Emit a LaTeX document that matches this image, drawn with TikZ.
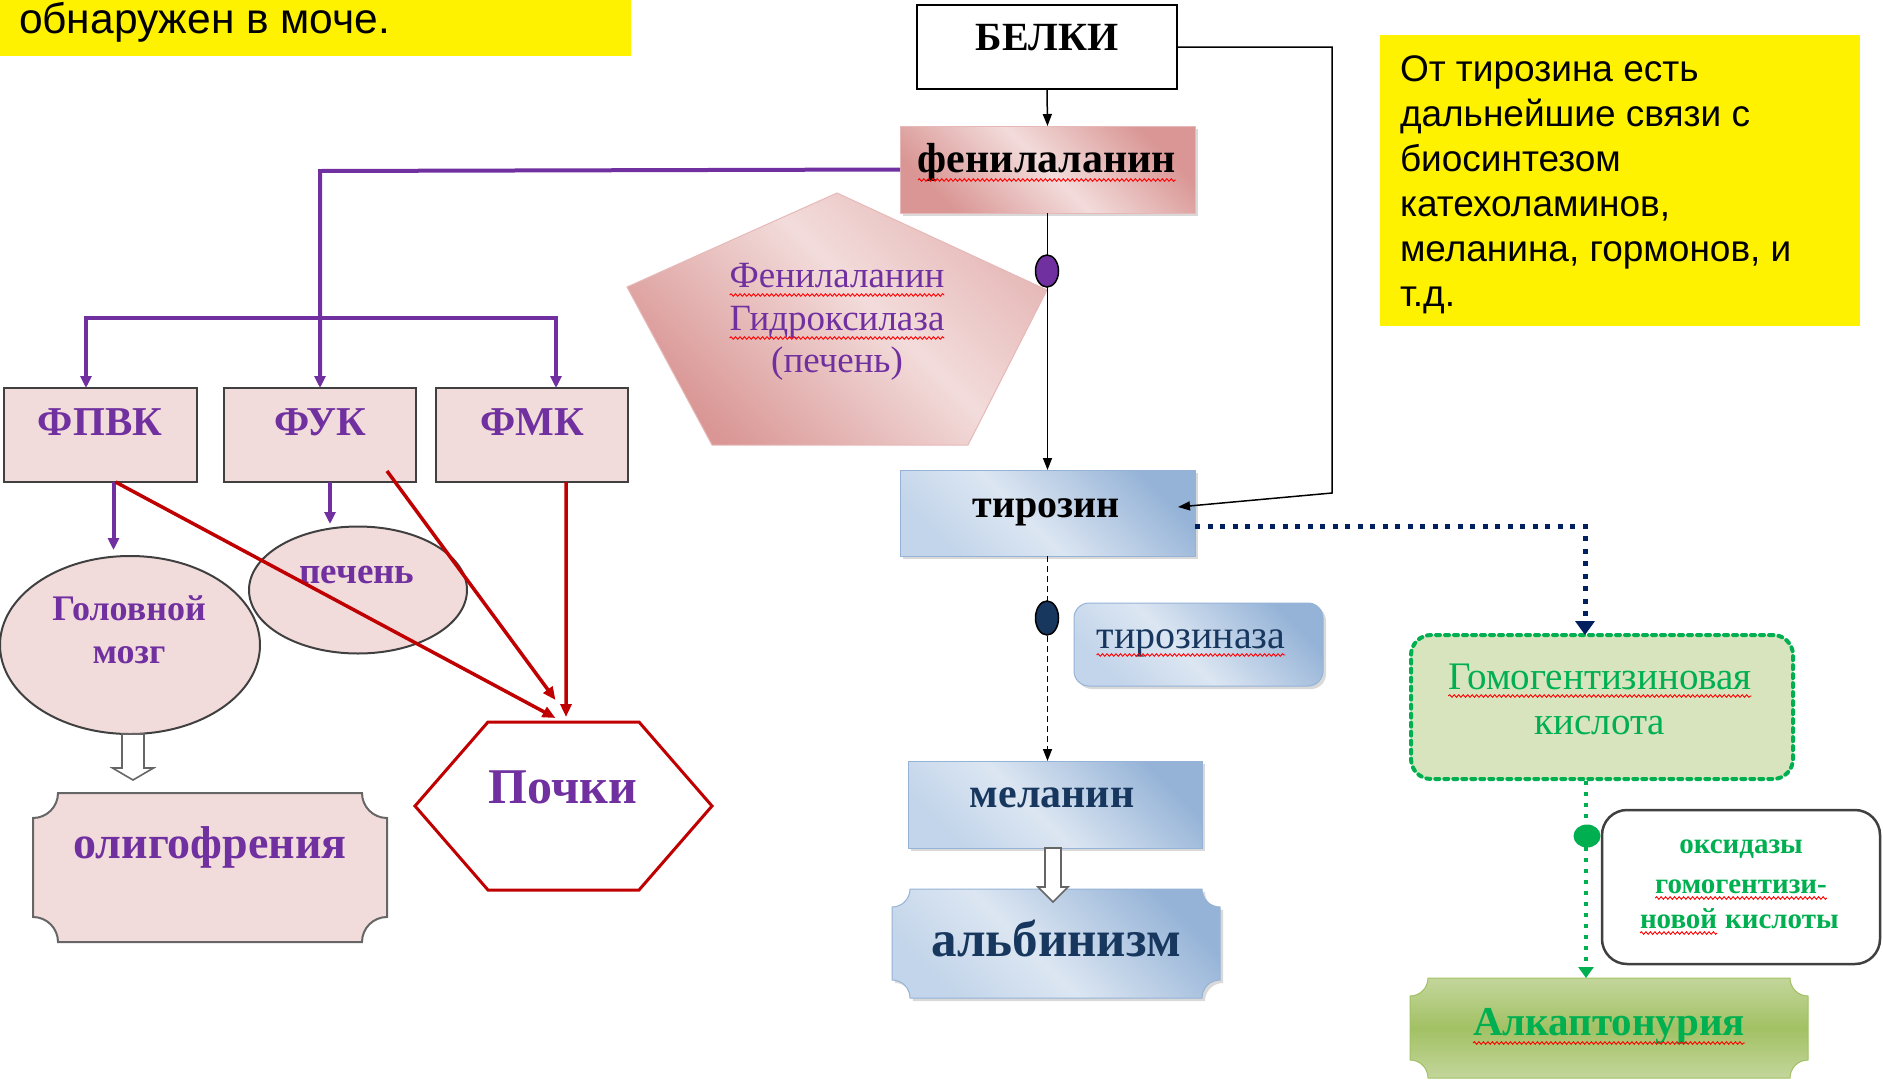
\documentclass[tikz,border=0pt]{standalone}
\usepackage{fontspec}
\setmainfont{Liberation Serif}
\newfontfamily\arialf{Liberation Sans}
\usetikzlibrary{arrows.meta,shapes.geometric,shadows,decorations.pathmorphing,calc}

\definecolor{purp}{HTML}{7030A0}
\definecolor{pinkL}{HTML}{F2DCDB}
\definecolor{pinkM}{HTML}{E6B9B8}
\definecolor{pinkD}{HTML}{D99694}
\definecolor{redC}{HTML}{C00000}
\definecolor{blueL}{HTML}{DCE6F2}
\definecolor{blueM}{HTML}{C3D5EA}
\definecolor{blueD}{HTML}{95B3D7}
\definecolor{navy}{HTML}{17375E}
\definecolor{navyDot}{HTML}{002060}
\definecolor{grn}{HTML}{00B050}
\definecolor{grnL}{HTML}{D7E4BD}
\definecolor{grnM}{HTML}{A2C164}
\definecolor{grnT}{HTML}{C3D69B}
\definecolor{boxline}{HTML}{404040}

% diagonal fills: light in the middle, darker towards the corners
\pgfdeclarehorizontalshading{bluediag}{100bp}{color(0bp)=(blueM); color(25bp)=(blueM); color(45bp)=(blueL); color(75bp)=(blueD); color(100bp)=(blueD)}
\pgfdeclarehorizontalshading{pinkdiag}{100bp}{color(0bp)=(pinkD); color(25bp)=(pinkD); color(50bp)=(pinkL); color(75bp)=(pinkD); color(100bp)=(pinkD)}
\pgfdeclarehorizontalshading{pinksoft}{100bp}{color(0bp)=(pinkD); color(25bp)=(pinkD); color(55bp)=(pinkL); color(75bp)=(pinkM); color(100bp)=(pinkM)}

% plaque outline with concave quarter-circle corners: x1,y1,x2,y2,r
\newcommand\plaquepath[5]{({#1+#5},#2) -- ({#3-#5},#2) .. controls ({#3-#5},{#2+0.552*#5}) and ({#3-0.552*#5},{#2+#5}) .. (#3,{#2+#5}) -- (#3,{#4-#5}) .. controls ({#3-0.552*#5},{#4-#5}) and ({#3-#5},{#4-0.552*#5}) .. ({#3-#5},#4) -- ({#1+#5},#4) .. controls ({#1+#5},{#4-0.552*#5}) and ({#1+0.552*#5},{#4-#5}) .. (#1,{#4-#5}) -- (#1,{#2+#5}) .. controls ({#1+0.552*#5},{#2+#5}) and ({#1+#5},{#2+0.552*#5}) .. ({#1+#5},#2) -- cycle}

% hollow block arrow: centre x, top y, half shaft, half head, head base y, tip y
\newcommand\hollowarrow[6]{\draw[fill=white,draw=black!60,line width=1.6bp] ({#1-#3},#2) -- ({#1+#3},#2) -- ({#1+#3},#5) -- ({#1+#4},#5) -- (#1,#6) -- ({#1-#4},#5) -- ({#1-#3},#5) -- cycle;}

% red wavy proofing mark under a label
\newcommand\spellmark[2]{\draw[wavy] ($(#1.base west)+(0,#2)$) -- ($(#1.base east)+(0,#2)$);}

\begin{document}
\begin{tikzpicture}[x=1bp,y=-1bp,
  lbl/.style={inner sep=0pt,outer sep=0pt,anchor=base},
  fsb/.style={font=\fontsize{#1bp}{#1bp}\selectfont\bfseries},
  fsr/.style={font=\fontsize{#1bp}{#1bp}\selectfont},
  fsa/.style={font=\arialf\fontsize{#1bp}{#1bp}\selectfont},
  frame/.style={inner sep=0pt,outer sep=0pt},
  pinkbox/.style={frame,draw=boxline,line width=2bp,fill=pinkL},
  boxshadow/.style={drop shadow={shadow xshift=3bp,shadow yshift=-3bp,opacity=0.3}},
  bluebox/.style={frame,draw=blueD,line width=1bp,shading=bluediag,shading angle=45,boxshadow},
  purpl/.style={draw=purp,line width=4bp},
  purptip/.style={-{Triangle[length=12bp,width=11bp]}},
  redln/.style={draw=redC,line width=3.5bp,-{Triangle[length=13bp,width=11bp]}},
  blk/.style={draw=black,line width=1.5bp,-{Triangle[length=12bp,width=9bp]}},
  wavy/.style={draw=red,line width=0.9bp,decorate,decoration={snake,amplitude=1.3bp,segment length=4.5bp}},
  enzdot/.style={ellipse,inner sep=0pt,draw=black,line width=1.5bp}]

\useasboundingbox (0,0) rectangle (1883,1081);

% ---------- notes ----------
\node[frame,fill=yellow,minimum width=631bp,minimum height=56bp,anchor=north west] (note1) at (0,0) {};
\node[lbl,fsa=42.5,anchor=base west] (note1t) at (19,33) {обнаружен в моче.};

\node[frame,fill=yellow,minimum width=480bp,minimum height=291bp,anchor=north west] (note2) at (1380,35) {};
\foreach \i/\yb/\txt in {1/81/От тирозина есть, 2/126/дальнейшие связи с, 3/171/биосинтезом, 4/216/катехоламинов{,}, 5/261/меланина{,} гормонов{,} и, 6/306/т.д.}
  \node[lbl,fsa=37,anchor=base west] (note2l\i) at (1400,\yb) {\txt};

% ---------- central pathway ----------
\node[frame,draw=black,line width=2bp,fill=white,minimum width=260bp,minimum height=84bp] (belki) at (1047,47) {};
\node[lbl,fsb=40] (belkit) at (1047,50) {БЕЛКИ};

\node[frame,draw=pinkM,line width=1bp,shading=pinkdiag,shading angle=45,boxshadow,minimum width=295bp,minimum height=87bp] (phe) at (1047.5,169.5) {};
\node[lbl,fsb=42] (phet) at (1047,172) {фенилаланин};

% enzyme pentagon
\node[frame,minimum width=420bp,minimum height=252bp] (pent) at (837,319) {};
\path[draw=pinkM,line width=1bp,shading=pinksoft,shading angle=45]
  (pent.north) -- ($(pent.east)+(0,-29)$) -- ($(pent.south east)+(-79,0)$) -- ($(pent.south west)+(85,0)$) -- ($(pent.west)+(0,-32)$) -- cycle;
\node[lbl,fsr=37,text=purp] (pent1) at (837,287) {Фенилаланин};
\node[lbl,fsr=37,text=purp] (pent2) at (837,330) {Гидроксилаза};
\node[lbl,fsr=37,text=purp] (pent3) at (837,372) {(печень)};

\node[bluebox,minimum width=295bp,minimum height=86bp] (tyr) at (1047.5,513) {};
\node[lbl,fsb=40] (tyrt) at (1046,517) {тирозин};

\node[frame,draw=blueD,line width=1bp,shading=bluediag,shading angle=45,boxshadow,rounded corners=15bp,minimum width=249bp,minimum height=83bp] (tyrase) at (1198.5,644.5) {};
\node[lbl,fsr=40,text=navy] (tyraset) at (1191,648) {тирозиназа};

\node[bluebox,minimum width=294bp,minimum height=87bp] (mel) at (1055,804.5) {};
\node[lbl,fsb=42,text=navy] (melt) at (1052,807) {меланин};

\node[frame,minimum width=328bp,minimum height=109bp] (alb) at (1056,943.5) {};
\path[draw=blueD,line width=1bp,shading=bluediag,shading angle=45,boxshadow] \plaquepath{892}{889}{1220}{998}{18};
\node[lbl,fsb=51,text=navy] (albt) at (1056,956) {альбинизм};

% ---------- homogentisic branch ----------
\node[frame,draw=grn,line width=4bp,dash pattern=on 4bp off 5bp,line cap=round,fill=grnL,rounded corners=20bp,minimum width=382bp,minimum height=144bp] (hga) at (1602,707) {};
\node[lbl,fsr=39,text=grn] (hgat1) at (1600,689) {Гомогентизиновая};
\node[lbl,fsr=39,text=grn] (hgat2) at (1600,734) {кислота};

\node[frame,draw=black!75,line width=2.5bp,fill=white,rounded corners=25bp,minimum width=278bp,minimum height=154bp] (oxid) at (1741,887) {};
\node[lbl,fsb=29,text=grn] (oxid1) at (1741,853) {оксидазы};
\node[lbl,fsb=29,text=grn] (oxid2) at (1741,893) {гомогентизи-};
\node[lbl,fsb=29,text=grn,anchor=base west] (oxid3) at (1640,928) {новой};
\node[lbl,fsb=29,text=grn,anchor=base west] (oxid4) at ($(oxid3.base east)+(8,0)$) {кислоты};

\node[frame,minimum width=398bp,minimum height=100bp] (alk) at (1609,1028) {};
\path[draw=grnM,line width=1bp,top color=grnT,bottom color=grnT,middle color=grnM] \plaquepath{1410}{978}{1808}{1078}{18};
\node[lbl,fsb=41,text=grn] (alkt) at (1609,1035) {Алкаптонурия};

% ---------- left part ----------
\node[pinkbox,minimum width=193bp,minimum height=94bp] (fpvk) at (100.5,435) {};
\node[pinkbox,minimum width=192bp,minimum height=94bp] (fuk) at (320,435) {};
\node[pinkbox,minimum width=192bp,minimum height=94bp] (fmk) at (532,435) {};
\node[lbl,fsb=41,text=purp] (fpvkt) at (100,435) {ФПВК};
\node[lbl,fsb=41,text=purp] (fukt) at (320,435) {ФУК};
\node[lbl,fsb=41,text=purp] (fmkt) at (532,435) {ФМК};

\node[ellipse,pinkbox,minimum width=260bp,minimum height=178bp] (brain) at (130,645) {};
\node[lbl,fsb=36,text=purp] (braint1) at (129,620) {Головной};
\node[lbl,fsb=36,text=purp] (braint2) at (129,663) {мозг};

\node[ellipse,pinkbox,minimum width=218bp,minimum height=127bp] (liver) at (358,590) {};
\node[lbl,fsb=37,text=purp] (livert) at (357,583) {печень};

\node[frame,minimum width=354bp,minimum height=149bp] (oligo) at (210,867.5) {};
\path[draw=black!60,line width=2bp,fill=pinkL] \plaquepath{33}{793}{387}{942}{25};
\node[lbl,fsb=46,text=purp] (oligot) at (210,858) {олигофрения};

\node[frame,minimum width=297bp,minimum height=168bp] (pochki) at (563.5,806) {};
\draw[draw=redC,line width=3bp,fill=white,line join=miter]
  ($(pochki.north west)+(73,0)$) -- ($(pochki.north east)+(-73,0)$) -- (pochki.east)
  -- ($(pochki.south east)+(-73,0)$) -- ($(pochki.south west)+(73,0)$) -- (pochki.west) -- cycle;
\node[lbl,fsb=50,text=purp] (pochkit) at (563,803) {Почки};

% ---------- hollow arrows ----------
\hollowarrow{133}{734}{11}{20.5}{768}{780}
\hollowarrow{1053}{848}{8}{15}{887}{902}

% ---------- connectors ----------
\draw[blk] (belki.south) -- (phe.north);
\draw[blk] (phe.south) -- (tyr.north);
\node[enzdot,fill=purp,minimum width=23bp,minimum height=32bp] (dot1) at (1047,271) {};
\draw[blk,dash pattern=on 6bp off 4bp] (tyr.south) -- (tyr.south |- mel.north);
\node[enzdot,fill=navy,minimum width=23bp,minimum height=34bp] (dot2) at (1047,618) {};

\coordinate (bend1) at (1332,47);
\coordinate (bend2) at (1332,493);
\coordinate (tyrin) at ($(tyr.east)+(-17,-6)$);
\draw[blk] (belki.east) -- (bend1) -- (bend2) -- (tyrin);

\draw[draw=navyDot,line width=5bp,dash pattern=on 5bp off 7.5bp,-{Triangle[length=14bp,width=19bp]}]
  ($(tyr.east)+(0,13)$) -| ($(hga.north)+(-17,0)$);

\draw[draw=grn,line width=4bp,dash pattern=on 4bp off 7bp,-{Triangle[length=11bp,width=15bp]}]
  ($(hga.south)+(-16,2)$) -- ($(alk.north)+(-23,0)$);
\node[ellipse,inner sep=0pt,fill=grn,minimum width=27bp,minimum height=23bp] (dot3) at (1587,836) {};

\coordinate (pj) at (320,171);
\draw[purpl,purptip] (phe.west) -- (pj) -- (fuk.north);
\coordinate (bl) at (86,318);
\coordinate (br) at (556,318);
\draw[purpl,{Triangle[length=12bp,width=11bp]}-{Triangle[length=12bp,width=11bp]}] (bl |- fpvk.north) -- (bl) -- (br) -- (br |- fmk.north);
\draw[purpl,purptip] ($(fpvk.south)+(13,0)$) -- ($(fpvk.south)+(13,68)$);
\draw[purpl,purptip] ($(fuk.south)+(10,0)$) -- ($(fuk.south)+(10,42)$);

\draw[redln] ($(fpvk.south)+(15,0)$) -- ($(pochki.north)+(-8,-4)$);
\draw[redln] ($(fuk.south east)+(-29,-11)$) -- ($(pochki.north)+(-8,-22)$);
\draw[redln] ($(fmk.south)+(34,0)$) -- ($(pochki.north)+(2.5,-5)$);

% ---------- proofing marks ----------
\spellmark{phet}{8}
\spellmark{pent1}{8}
\spellmark{pent2}{8}
\spellmark{tyraset}{7}
\spellmark{hgat1}{7}
\spellmark{oxid2}{5}
\spellmark{oxid3}{5}
\spellmark{alkt}{8}
\end{tikzpicture}
\end{document}
